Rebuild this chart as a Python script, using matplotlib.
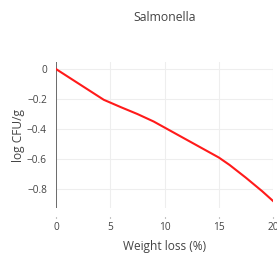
import matplotlib
matplotlib.use("Agg")
import matplotlib.pyplot as plt

weight_loss = [0, 4.4, 6, 7.5, 9, 10, 11, 12.5, 14, 15, 16, 17.5, 19, 20]
log_cfu = [0, -0.205, -0.255, -0.30, -0.35, -0.39, -0.43, -0.49, -0.55,
           -0.59, -0.64, -0.725, -0.815, -0.88]
xticks = [0, 5, 10, 15, 20]
yticks = [0, -0.2, -0.4, -0.6, -0.8]
ytick_labels = ["0", "\u22120.2", "\u22120.4", "\u22120.6", "\u22120.8"]

plt.rcParams["font.family"] = ["Open Sans", "DejaVu Sans"]
text_color = "#444444"

fig = plt.figure(figsize=(2.77, 2.56), dpi=100)
ax = fig.add_axes([0.2022, 0.1875, 0.7834, 0.5703])

ax.plot(weight_loss, log_cfu, color="#ff1a1a", linewidth=1.5, zorder=3)

ax.set_xlim(0, 20)
ax.set_ylim(-0.927, 0.047)
ax.set_xticks(xticks)
ax.set_yticks(yticks)
ax.set_yticklabels(ytick_labels)
ax.grid(True, color="#eeeeee", linewidth=0.8)
ax.set_axisbelow(True)
ax.axvline(0, color="#555555", linewidth=1.2, zorder=2)

for side in ["top", "right", "left"]:
    ax.spines[side].set_visible(False)
ax.spines["bottom"].set_position(("outward", 6.5))
ax.spines["bottom"].set_visible(False)

ax.tick_params(axis="y", length=0, pad=6.5, labelsize=7.3, labelcolor=text_color)
ax.tick_params(axis="x", length=1.0, width=0.8, color="#888888", pad=2.5,
               labelsize=7.3, labelcolor=text_color)

ax.set_xlabel("Weight loss (%)", fontsize=8.6, color=text_color, labelpad=5)
ax.set_ylabel("log CFU/g", fontsize=8.6, color=text_color, labelpad=1.5)
fig.text(0.594, 0.93, "Salmonella", ha="center", va="center",
         fontsize=8.8, color=text_color)

fig.savefig("out.png", dpi=100)
